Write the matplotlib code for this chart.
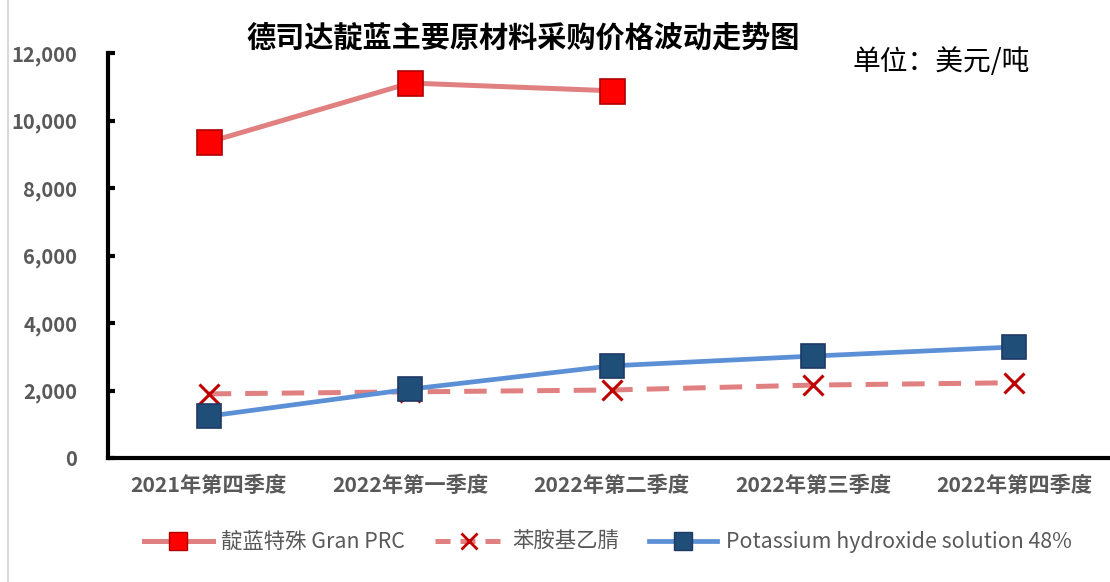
import matplotlib
matplotlib.use("Agg")
import matplotlib.pyplot as plt
from matplotlib.ticker import FuncFormatter
from matplotlib.lines import Line2D

plt.rcParams['font.family'] = ['Noto Sans CJK SC', 'DejaVu Sans']

categories = ["2021年第四季度", "2022年第一季度", "2022年第二季度", "2022年第三季度", "2022年第四季度"]
indigo = [9360, 11110, 10880]
aniline = [1900, 1960, 2015, 2160, 2230]
koh = [1240, 2040, 2730, 3020, 3290]
labels = ["靛蓝特殊 Gran PRC", "苯胺基乙腈", "Potassium hydroxide solution 48%"]
title = "德司达靛蓝主要原材料采购价格波动走势图"
unit = "单位：美元/吨"
yticks = [0, 2000, 4000, 6000, 8000, 10000, 12000]

fig = plt.figure(figsize=(11.1, 5.82), dpi=100)
ax = fig.add_axes([108/1110, 1-458/582, (1115-108)/1110, 405/582])

dash = (0, (4.5, 2.8))
x = list(range(len(categories)))
ax.plot(x[:len(indigo)], indigo, color='#E08080', lw=3.6, marker='s', ms=18,
        mfc='#FF0000', mec='#B00000', mew=1.2, zorder=3)
ax.plot(x, aniline, color='#E08080', lw=3.6, ls=dash, marker='x', ms=14,
        mec='#C00000', mew=2.2, zorder=3)
ax.plot(x, koh, color='#5B8FD6', lw=3.4, marker='s', ms=17,
        mfc='#1F4E79', mec='#203864', mew=1.2, zorder=4)

ax.set_xlim(-0.5, 4.5)
ax.set_ylim(0, 12000)
ax.set_yticks(yticks)
ax.yaxis.set_major_formatter(FuncFormatter(lambda v, p: f"{int(v):,}"))
ax.set_xticks(x)
ax.set_xticklabels(categories)
for s in ['top', 'right']:
    ax.spines[s].set_visible(False)
for s in ['left', 'bottom']:
    ax.spines[s].set_linewidth(3)
    ax.spines[s].set_color('black')
ax.tick_params(axis='y', direction='in', length=5, width=3, colors='black',
               labelcolor='#595959', labelsize=14.5, pad=22)
ax.tick_params(axis='x', length=0, labelcolor='#595959', labelsize=15.3, pad=12)
for t in ax.get_yticklabels() + ax.get_xticklabels():
    t.set_fontweight('bold')

fig.text(523/1110, 1-38/582, title, ha='center', va='center', fontsize=21,
         fontweight='bold', color='black')
fig.text(852/1110, 1-62/582, unit, ha='left', va='center', fontsize=20, color='black')

handles = [
    Line2D([], [], color='#E08080', lw=3.6, marker='s', ms=13, mfc='#FF0000', mec='#B00000'),
    Line2D([], [], color='#E08080', lw=3.6, ls=(0, (3, 2)), marker='x', ms=12, mec='#C00000', mew=2),
    Line2D([], [], color='#5B8FD6', lw=3.4, marker='s', ms=13, mfc='#1F4E79', mec='#203864'),
]
leg = fig.legend(handles, labels, loc='center', bbox_to_anchor=(608/1110, 1-542/582),
                 ncol=3, frameon=False, fontsize=15.4, handlelength=3.2,
                 columnspacing=1.4, handletextpad=0.4)
for t in leg.get_texts():
    t.set_color('#595959')

fig.add_artist(Line2D([8/1110, 8/1110], [0, 1], color='#D9D9D9', lw=1.5))

fig.savefig('out.png', dpi=100)
